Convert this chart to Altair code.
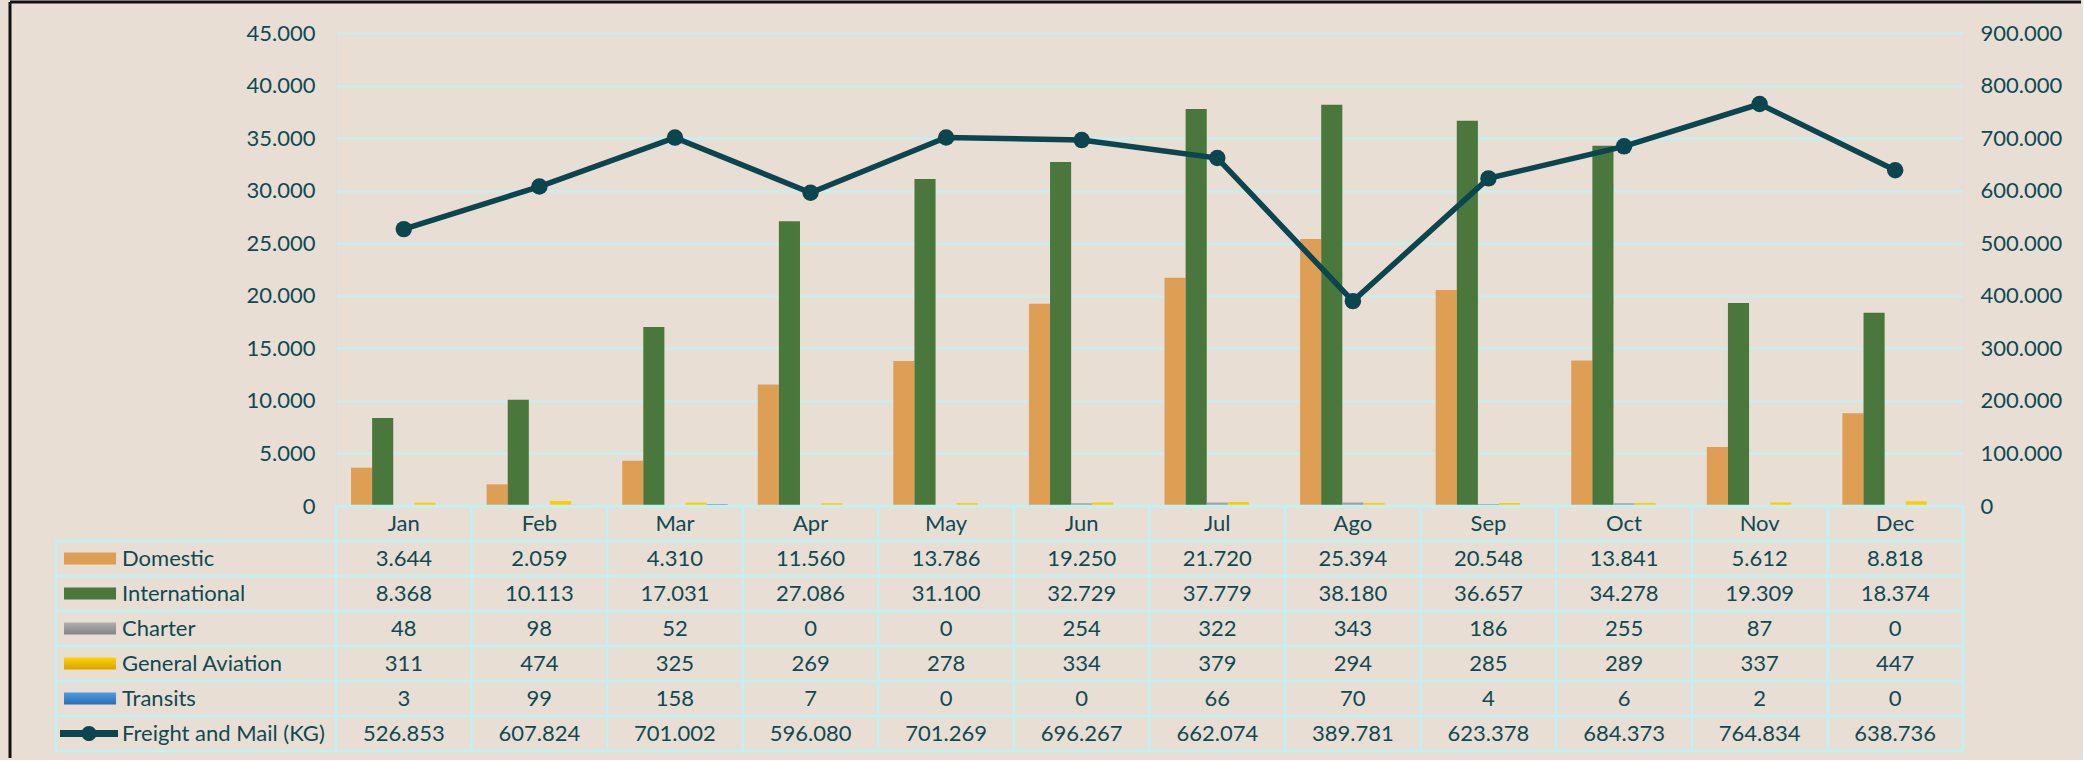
import altair as alt
import pandas as pd

# ---------------- data ----------------
months = ["Jan", "Feb", "Mar", "Apr", "May", "Jun", "Jul", "Ago", "Sep", "Oct", "Nov", "Dec"]
domestic = [3644, 2059, 4310, 11560, 13786, 19250, 21720, 25394, 20548, 13841, 5612, 8818]
international = [8368, 10113, 17031, 27086, 31100, 32729, 37779, 38180, 36657, 34278, 19309, 18374]
charter = [48, 98, 52, 0, 0, 254, 322, 343, 186, 255, 87, 0]
general_aviation = [311, 474, 325, 269, 278, 334, 379, 294, 285, 289, 337, 447]
transits = [3, 99, 158, 7, 0, 0, 66, 70, 4, 6, 2, 0]
freight = [526853, 607824, 701002, 596080, 701269, 696267, 662074, 389781, 623378, 684373, 764834, 638736]

series_names = ["Domestic", "International", "Charter", "General Aviation", "Transits"]
line_name = "Freight and Mail (KG)"
legend_labels = ["\u00a0Domestic", "\u00a0\u00a0International", "\u00a0Charter",
                 "General Aviation", "Transits", "Freight and Mail (KG)"]
left_ticks = list(range(0, 45001, 5000))
right_ticks = list(range(0, 900001, 100000))

# ---------------- style ----------------
FONT = "Lato"
FS = 22
bg = "#E8DED3"
text_color = "#0E4A54"
grid_color = "#BFF1F5"
line_color = "#0A4550"
series_colors = ["#DE9F55", "#4A773C", "#A0A0A0", "#FFCC00", "#3F86CF"]
# legend key gradients (top colour, bottom colour); None = flat colour
key_gradients = [None, None, ("#AEAEAE", "#858585"), ("#FFD500", "#DDA000"), ("#4C9DE8", "#2D6CAE")]
PLOT_W = 1627
BAR_TOP, TABLE_TOP = 0, 473
TABLE_END = 718
LEGEND_SPAN = 2.065  # legend column width, in month-column units
FRAME_X = [-326, 1745]  # frame lines extent around the plot area (pixels)
FRAME_Y = [725, -31]

# ---------------- tables ----------------
bar_values = [domestic, international, charter, general_aviation, transits]
bars_df = pd.DataFrame([
    {"month": m, "series": s, "value": vals[i]}
    for s, vals in zip(series_names, bar_values)
    for i, m in enumerate(months)
])
line_df = pd.DataFrame({"month": months, "freight": freight})

row_keys = ["header"] + series_names + [line_name]


def fmt(v):
    return f"{v:,}".replace(",", ".")


table_rows = [{"row": "header", "month": m, "label": m} for m in months]
for s, vals in zip(series_names + [line_name], bar_values + [freight]):
    for i, m in enumerate(months):
        table_rows.append({"row": s, "month": m, "label": fmt(vals[i])})
table_df = pd.DataFrame(table_rows)

legend_df = pd.DataFrame({
    "row": series_names + [line_name],
    "label": legend_labels,
    "color": series_colors + [line_color],
})

n_cols = len(months)
n_rows = len(row_keys)
h_df = pd.DataFrame([
    {"yb": b, "x0": (0 if b == 0 else -LEGEND_SPAN), "x1": n_cols}
    for b in range(n_rows + 1)
])
v_df = pd.DataFrame(
    [{"xb": -LEGEND_SPAN, "y0": 1, "y1": n_rows}]
    + [{"xb": c, "y0": 0, "y1": n_rows} for c in range(n_cols + 1)]
)
# frame: top edge and left edge, in unit frame coordinates
frame_df = pd.DataFrame({"fx0": [0, 0], "fx1": [1, 0], "fy0": [1, 0], "fy1": [1, 1]})

# ---------------- scales ----------------
x_band = alt.Scale(domain=months, paddingInner=0.2213, paddingOuter=0.1107)
row_band = alt.Scale(domain=row_keys, range=[TABLE_TOP, TABLE_END], paddingInner=0, paddingOuter=0)
table_x = alt.Scale(domain=[0, n_cols], nice=False, zero=False)
table_y = alt.Scale(domain=[0, n_rows], range=[TABLE_TOP, TABLE_END], nice=False, zero=False)
frame_x = alt.Scale(domain=[0, 1], range=FRAME_X, nice=False, zero=False)
frame_y = alt.Scale(domain=[0, 1], range=FRAME_Y, nice=False, zero=False)

axis_common = dict(domain=False, ticks=False, tickSize=0, labelFontSize=FS, labelColor=text_color,
                   labelFont=FONT, title=None, format=",.0f")

bars = alt.Chart(bars_df).mark_bar().encode(
    x=alt.X("month:N", scale=x_band, axis=None),
    xOffset=alt.XOffset("series:N", scale=alt.Scale(domain=series_names, paddingInner=0, paddingOuter=0)),
    y=alt.Y("value:Q", scale=alt.Scale(domain=[0, 45000], range=[TABLE_TOP, BAR_TOP], nice=False),
            axis=alt.Axis(orient="left", values=left_ticks, grid=True, gridColor=grid_color, gridWidth=2,
                          labelPadding=21, **axis_common)),
    color=alt.Color("series:N", scale=alt.Scale(domain=series_names, range=series_colors), legend=None),
)

line = alt.Chart(line_df).mark_line(
    color=line_color, strokeWidth=5.5,
    point=alt.OverlayMarkDef(filled=True, size=270, color=line_color, opacity=1),
).encode(
    x=alt.X("month:N", scale=x_band, axis=None),
    y=alt.Y("freight:Q", scale=alt.Scale(domain=[0, 900000], range=[TABLE_TOP, BAR_TOP], nice=False),
            axis=alt.Axis(orient="right", values=right_ticks, grid=False, labelPadding=17, **axis_common)),
)

hrules = alt.Chart(h_df).mark_rule(color=grid_color, strokeWidth=2.5).encode(
    x=alt.X("x0:Q", scale=table_x, axis=None),
    x2="x1:Q",
    y=alt.Y("yb:Q", scale=table_y, axis=None),
)
vrules = alt.Chart(v_df).mark_rule(color=grid_color, strokeWidth=2.5).encode(
    x=alt.X("xb:Q", scale=table_x, axis=None),
    y=alt.Y("y0:Q", scale=table_y, axis=None),
    y2="y1:Q",
)

cells = alt.Chart(table_df).mark_text(fontSize=FS, font=FONT, color=text_color).encode(
    x=alt.X("month:N", scale=x_band, axis=None),
    y=alt.Y("row:N", scale=row_band, axis=None),
    text="label:N",
)

RECT_PATH = "M-1,-0.23L1,-0.23L1,0.23L-1,0.23Z"
LINE_KEY_PATH = ("M-1,-0.12L1,-0.12L1,0.12L-1,0.12Z "
                 "M0.26,0A0.26,0.26 0 1,1 -0.26,0A0.26,0.26 0 1,1 0.26,0Z")

key_x = alt.XDatum(-LEGEND_SPAN, type="quantitative", scale=table_x, axis=None)
key_y = alt.Y("row:N", scale=row_band, axis=None)

key_layers = []
for name, col, grad in zip(series_names, series_colors, key_gradients):
    if grad is None:
        fill = col
    else:
        fill = alt.Gradient(gradient="linear", x1=0, x2=0, y1=0, y2=1,
                            stops=[alt.GradientStop(color=grad[0], offset=0),
                                   alt.GradientStop(color=grad[1], offset=1)])
    key_layers.append(
        alt.Chart(legend_df[legend_df["row"] == name]).mark_point(
            shape=RECT_PATH, size=2704, filled=True, opacity=1, strokeWidth=0, fill=fill, xOffset=34
        ).encode(x=key_x, y=key_y)
    )

line_key = alt.Chart(legend_df[legend_df["row"] == line_name]).mark_point(
    shape=LINE_KEY_PATH, size=3364, filled=True, opacity=1, xOffset=33, color=line_color
).encode(x=key_x, y=key_y)

legend_text = alt.Chart(legend_df).mark_text(
    align="left", dx=66, fontSize=FS, font=FONT, color=text_color
).encode(x=key_x, y=key_y, text="label:N")

frame = alt.Chart(frame_df).mark_rule(color="#111111", strokeWidth=3).encode(
    x=alt.X("fx0:Q", scale=frame_x, axis=None),
    x2="fx1:Q",
    y=alt.Y("fy0:Q", scale=frame_y, axis=None),
    y2="fy1:Q",
)

chart = alt.layer(
    bars, line, hrules, vrules, cells, *key_layers, line_key, legend_text, frame
).resolve_scale(
    x="independent", y="independent"
).properties(
    width=PLOT_W, height=TABLE_END,
    background=bg,
    padding={"left": 8, "top": 0, "right": 0, "bottom": 0},
).configure_view(
    stroke=None
).configure(
    locale={"number": {"decimal": ",", "thousands": ".", "grouping": [3], "currency": ["", "\u20ac"]}}
)

chart.save("out.html", embed_options={"renderer": "svg", "actions": False})
